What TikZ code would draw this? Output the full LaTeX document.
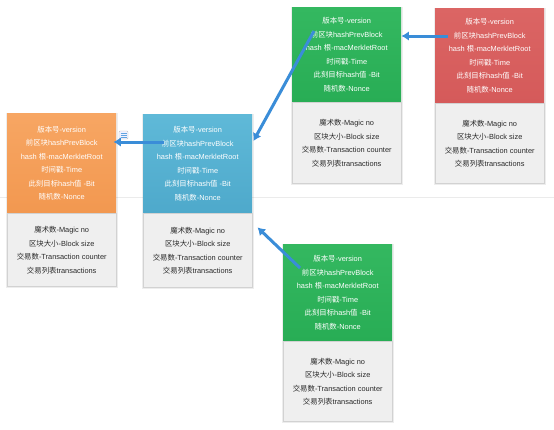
\documentclass[tikz,border=0pt]{standalone}
\usepackage{fontspec}
\setmainfont{Liberation Sans}
\newfontfamily\zhfont{Noto Sans CJK SC}
\newcommand\zh[1]{{\zhfont #1}}
\usetikzlibrary{arrows.meta,calc}
\definecolor{orgT}{HTML}{F7A663}
\definecolor{orgB}{HTML}{F29850}
\definecolor{bluT}{HTML}{5FB9D8}
\definecolor{bluB}{HTML}{4EA9CB}
\definecolor{grnT}{HTML}{34B860}
\definecolor{grnB}{HTML}{28AD55}
\definecolor{redT}{HTML}{DB6564}
\definecolor{redB}{HTML}{D55A5A}
\definecolor{ftrgray}{HTML}{EFEFEF}
\definecolor{ftrline}{HTML}{D2D2D2}
\definecolor{ftrtext}{HTML}{2A2A2A}
\definecolor{arrowblue}{HTML}{3A8DD8}
\definecolor{sepline}{HTML}{EBEBEB}
\newcommand\hdrtext{\zh{版本号}-version\\\zh{前区块}hashPrevBlock\\hash \zh{根}-macMerkletRoot\\\zh{时间戳}-Time\\\zh{此刻目标}hash\zh{值} -Bit\\\zh{随机数}-Nonce}
\newcommand\ftrtext{\zh{魔术数}-Magic no\\\zh{区块大小}-Block size\\\zh{交易数}-Transaction counter\\\zh{交易列表}transactions}
\tikzset{
  hdr/.style={minimum width=109pt, inner sep=0pt, anchor=north west, text=white, align=center, font=\fontsize{7.4}{13.5}\selectfont},
  ftr/.style={minimum width=109pt, inner sep=0pt, anchor=north, fill=ftrgray, draw=ftrline, line width=0.6pt, text=ftrtext, align=center, font=\fontsize{7.4}{13.5}\selectfont},
  link/.style={draw=arrowblue, line width=3pt, -{Latex[length=7.5pt,width=9.5pt]}},
  shadowbox/.style={fill=black, opacity=0.07}
}
% #1 name, #2 x, #3 top, #4 header height, #5 footer height, #6 top colour, #7 bottom colour
\newcommand\blk[7]{%
  \fill[shadowbox] (#2-1.5,#3-0.5) rectangle (#2+110.5,#3+#4+#5+2);
  \node[hdr, top color=#6, bottom color=#7, minimum height=#4pt] (#1h) at (#2,#3) {\hdrtext};
  \node[ftr, minimum height=#5pt] (#1f) at (#1h.south) {\ftrtext};
}
\begin{document}
\begin{tikzpicture}[x=1pt,y=-1pt]
  \fill[white] (0,0) rectangle (554,429);
  \useasboundingbox (0,0) rectangle (554,429);
  \draw[sepline, line width=1pt] (0,197) -- (554,197);
  \blk{o}{7}{113}{100}{73}{orgT}{orgB}
  \blk{b}{143}{114}{99}{74}{bluT}{bluB}
  \blk{t}{292}{7}{95}{81}{grnT}{grnB}
  \blk{r}{435}{8}{95}{80}{redT}{redB}
  \blk{g}{283}{244}{97}{80}{grnT}{grnB}
  % small icon
  \node[draw=black!25, fill=blue!5, rounded corners=1pt, minimum width=9pt, minimum height=8pt, inner sep=0pt] (icon) at (123.5,135) {};
  \draw[arrowblue!80, line width=0.8pt] ($(icon.center)+(-3,-2)$) -- ($(icon.center)+(3,-2)$)
    ($(icon.center)+(-3,0)$) -- ($(icon.center)+(3,0)$)
    ($(icon.center)+(-3,2)$) -- ($(icon.center)+(3,2)$);
  % arrow coordinates
  \coordinate (s1) at (448,36);
  \coordinate (s2) at (314,31);
  \coordinate (e2) at ($(bh.north east)+(1,27)$);
  \coordinate (s3) at (164,142);
  \coordinate (s4) at (300,268);
  \coordinate (e4) at ($(bf.north east)+(5,14)$);
  \draw[link] (s1) -- (th.east |- s1);
  \draw[link] (s2) -- (e2);
  \draw[link, shorten >=-3pt] (s3) -- (oh.east |- s3);
  \draw[link] (s4) -- (e4);
\end{tikzpicture}
\end{document}
